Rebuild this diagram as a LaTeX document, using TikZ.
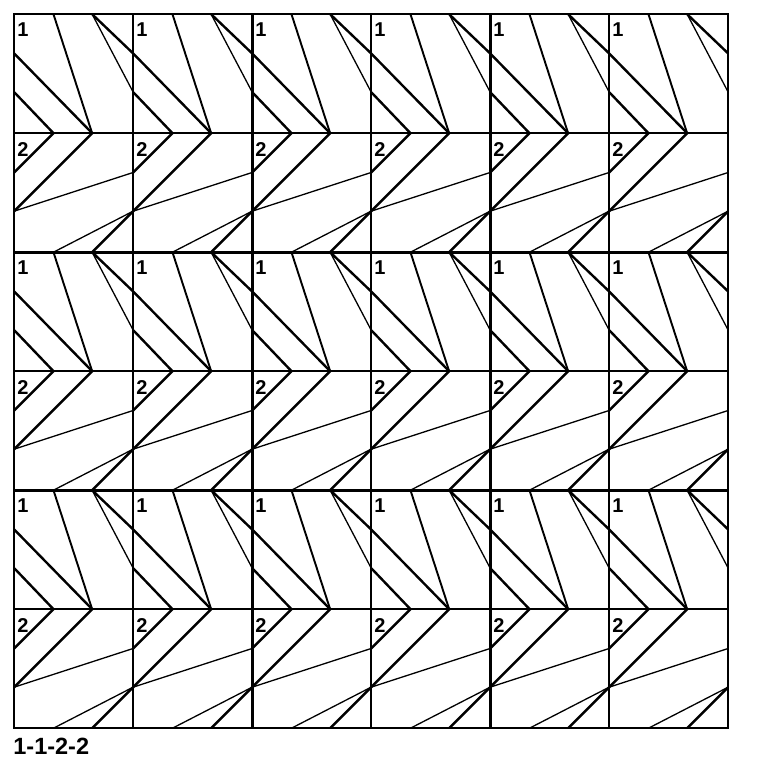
\documentclass[tikz,border=0pt]{standalone}
\usepackage{fontspec}
\setmainfont{Liberation Sans}
\begin{document}
\begin{tikzpicture}[x=119pt,y=-119pt,
  gridline/.style={line width=1.7pt,black},
  blockline/.style={line width=3.3pt,black},
  heavy/.style={line width=2.4pt,black,line join=miter},
  medium/.style={line width=1.9pt,black},
  light/.style={line width=1.3pt,black},
  lbl/.style={font=\bfseries\fontsize{20}{20}\selectfont,inner sep=0pt,anchor=north west},
  caption/.style={font=\bfseries\fontsize{23.5}{23.5}\selectfont,inner sep=0pt,anchor=north west}]
\def\A{0.33}
\def\B{0.655}
\useasboundingbox (-0.11933,-0.11933) rectangle (6.3345,6.3345);
\begin{scope}
\clip (0,0) rectangle (6,6);
\foreach \c in {0,...,6} {
  \foreach \r in {0,1,2} {
    \pgfmathsetmacro{\ty}{2*\r}
    % big chevron
    \draw[heavy] (\c-1+\B,\ty) -- (\c,\ty+\A) -- (\c+\B,\ty+1) -- (\c,\ty+1+\B) -- (\c-1+\B,\ty+2);
    % small chevron
    \draw[heavy] (\c,\ty+\B) -- (\c+\A,\ty+1) -- (\c,\ty+1+\A);
    % medium line in upper cell
    \draw[medium] (\c+\A,\ty) -- (\c+\B,\ty+1);
    % thin lines
    \draw[light] (\c+\B,\ty) -- (\c+1,\ty+\B);
    \draw[light] (\c,\ty+1+\B) -- (\c+1,\ty+1+\A);
    \draw[light] (\c+\A,\ty+2) -- (\c+1,\ty+1+\B);
  }
}
\end{scope}
% grid
\foreach \i in {1,3,5} {
  \draw[gridline] (\i,0) -- (\i,6);
  \draw[gridline] (0,\i) -- (6,\i);
}
\draw[gridline] (0,0) rectangle (6,6);
\foreach \i in {2,4} {
  \draw[blockline] (\i,0) -- (\i,6);
  \draw[blockline] (0,\i) -- (6,\i);
}
% labels
\foreach \c in {0,...,5} {
  \foreach \r in {0,1,2} {
    \node[lbl] (one\c\r) at ([xshift=3pt,yshift=-8pt]\c,2*\r) {1};
    \node[lbl] (two\c\r) at ([xshift=3pt,yshift=-9pt]\c,2*\r+1) {2};
  }
}
\node[caption] (cap) at ([xshift=-1pt,yshift=-10pt]0,6) {1-1-2-2};
\end{tikzpicture}
\end{document}
